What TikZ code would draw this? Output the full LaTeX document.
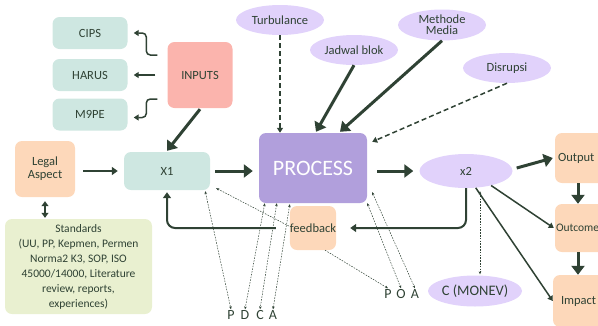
\documentclass[tikz,border=0pt]{standalone}
\usepackage{fontspec}
\setmainfont{Carlito}
\usetikzlibrary{arrows.meta,shapes.geometric}
\definecolor{ink}{HTML}{2F4234}
\definecolor{mint}{HTML}{CEE7E1}
\definecolor{salmon}{HTML}{FBB4AD}
\definecolor{lilac}{HTML}{E1D2FB}
\definecolor{violet}{HTML}{B19FDC}
\definecolor{peach}{HTML}{FDD8BA}
\definecolor{pale}{HTML}{E9F0D0}

\begin{document}
\begin{tikzpicture}[x=1pt,y=-1pt,
  font=\fontsize{12.5}{14}\selectfont, text=ink,
  card/.style={rounded corners=7pt, inner sep=2pt, align=center},
  mintcard/.style={card, fill=mint, minimum width=75pt, minimum height=32pt},
  peachcard/.style={card, fill=peach},
  bubble/.style={ellipse, fill=lilac, inner sep=0pt, minimum width=88pt, minimum height=30pt, align=center},
  letter/.style={inner sep=1pt, font=\fontsize{14}{14}\selectfont},
  heavy/.style={draw=ink, line width=3pt, -{Triangle[length=9pt,width=13pt]}},
  medium/.style={draw=ink, line width=2pt, -{Triangle[length=6pt,width=8pt]}},
  light/.style={draw=ink, line width=1.5pt, -{Triangle[length=5pt,width=6pt]}},
  broken/.style={draw=ink, line width=1.5pt, dash pattern=on 5pt off 3pt, -{Triangle[length=5pt,width=6pt]}},
  hair/.style={draw=ink, line width=0.5pt, dash pattern=on 1.6pt off 1.2pt, {Stealth[length=3pt,width=2.6pt]}-{Stealth[length=3pt,width=2.6pt]}},
  hairone/.style={draw=ink, line width=0.5pt, dash pattern=on 1.6pt off 1.2pt, -{Stealth[length=3pt,width=2.6pt]}},
]
\useasboundingbox (0,0) rectangle (598,325);
\clip (0,0) rectangle (598,325);

% input side
\node[mintcard] (cips)  at (90,33)  {CIPS};
\node[mintcard] (harus) at (90,75)  {HARUS};
\node[mintcard] (m9pe)  at (90,114.5) {M9PE};
\node[card, fill=salmon, minimum width=65pt, minimum height=66pt] (inputs) at (200,75) {INPUTS};

% influences on the process
\node[bubble] (turb)    at (280,20)  {Turbulance};
\node[bubble] (jadwal)  at (354,50)  {Jadwal blok};
\node[bubble, minimum height=31pt] (methode) at (442,25) {Methode\\[-3pt]Media};
\node[bubble] (disrupsi) at (507,68) {Disrupsi};

% main chain
\node[peachcard, minimum width=60pt, minimum height=56pt] (legal) at (45,169) {Legal\\[-1pt]Aspect};
\node[card, fill=pale, minimum width=147pt, minimum height=95pt, font=\fontsize{11.5}{15}\selectfont] (std) at (78.5,266.5)
  {Standards\\(UU, PP, Kepmen, Permen\\Norma2 K3, SOP, ISO\\45000/14000, Literature\\review, reports,\\experiences)};
\node[mintcard, minimum width=86pt, minimum height=38pt] (x1) at (167,171) {X1};
\node[card, fill=violet, text=white, minimum width=108pt, minimum height=70pt, font=\fontsize{22}{24}\selectfont] (process) at (313,168) {PROCESS};
\node[peachcard, inner sep=0pt, minimum width=45pt, minimum height=44pt] (feedback) at (313,228) {feedback};
\node[bubble, minimum width=93pt, minimum height=34pt] (x2) at (466,171) {x2};
\node[bubble, minimum width=78pt, minimum height=31pt, font=\fontsize{14.5}{15}\selectfont] (monev) at (475,291) {C (MONEV)};

% results
\node[peachcard, minimum width=62pt, minimum height=50pt, text width=56pt, inner xsep=3pt, align=left] (output)  at (586,158) {Output};
\node[peachcard, minimum width=62pt, minimum height=48pt, text width=60pt, inner xsep=1pt, align=left, font=\fontsize{11.5}{13}\selectfont] (outcome) at (586,228) {Outcome};
\node[peachcard, minimum width=62pt, minimum height=52pt, text width=50pt, inner xsep=8pt, align=left] (impact)  at (586,301) {Impact};

% cycle letters
\node[letter] (p1) at (231,315) {P};
\node[letter] (d1) at (245,315) {D};
\node[letter] (c1) at (260,315) {C};
\node[letter] (a1) at (273,315) {A};
\node[letter] (p2) at (388,294) {P};
\node[letter] (o2) at (401,294) {O};
\node[letter] (a2) at (415,294) {A};

% inputs fan-out
\draw[light, rounded corners=4pt] ([xshift=-10pt,yshift=20pt]inputs.west) -- ++(-11,0) |- ([xshift=6pt]cips.east);
\draw[light] ([xshift=-12pt]inputs.west) -- ([xshift=6pt]harus.east);
\draw[light, rounded corners=4pt] ([xshift=-10pt,yshift=-24pt]inputs.west) -- ++(-11,0) |- ([xshift=6pt,yshift=-3pt]m9pe.east);
\draw[heavy] ([yshift=-1pt]inputs.south) -- ([yshift=1pt]x1.north);

% influences
\draw[broken] (turb.south) -- (turb.south |- process.north);
\draw[heavy] (jadwal.south) -- ([xshift=3pt,yshift=1pt]process.north);
\draw[heavy] (methode.south) -- ([xshift=27pt,yshift=1pt]process.north);
\draw[broken] (disrupsi.south) -- ([xshift=5pt,yshift=-9pt]process.north east);

% main flow
\draw[medium] ([xshift=8pt]legal.east |- x1.west) -- ([xshift=-6pt]x1.west);
\draw[draw=ink, line width=2pt, {Triangle[length=5pt,width=7pt]}-{Triangle[length=5pt,width=7pt]}] ([yshift=-4pt]legal.south) -- ([yshift=1pt]legal.south |- std.north);
\draw[heavy] ([xshift=5pt]x1.east) -- ([xshift=-6pt]x1.east -| process.west);
\draw[heavy] ([xshift=10pt]process.east |- x2.west) -- ([xshift=-6pt]x2.west);
\draw[heavy] ([xshift=4pt,yshift=3pt]x2.east) -- ([xshift=-2pt]output.west);
\draw[light] (x2.-30) -- ([xshift=-1pt]outcome.west);
\draw[light] (x2.-60) -- (impact.west);
\draw[heavy] ([xshift=-8pt]output.south) -- ([xshift=-8pt]outcome.north);
\draw[heavy] ([xshift=-8pt]outcome.south) -- ([xshift=-8pt]impact.north);

% feedback loop
\draw[medium, rounded corners=8pt] (x2.south) |- ([xshift=14pt]feedback.east);
\draw[medium, rounded corners=8pt] ([xshift=-14pt]feedback.west) -| ([yshift=-2pt]x1.south);

% PDCA / POA links
\draw[hair] ([xshift=-5pt,yshift=-1pt]x1.south east) -- (p1.north);
\draw[hair] ([xshift=6pt]process.south west) -- (d1.north);
\draw[hair] ([xshift=18pt]process.south west) -- (c1.north);
\draw[hair] ([xshift=31pt,yshift=-1pt]process.south west) -- (a1.north);
\draw[hairone] ([xshift=-1pt,yshift=2pt]feedback.west) -- ([xshift=6pt,yshift=2pt]x1.south east);
\draw[hairone] ([xshift=12pt]feedback.south) -- (p2.north);
\draw[hair] (process.south east) -- (o2.north);
\draw[hair] ([xshift=5pt,yshift=11pt]process.south east) -- (a2.north);
\draw[hair, line width=0.6pt] ([xshift=14pt,yshift=-3pt]x2.south) -- ([xshift=5pt,yshift=1pt]monev.north);
\end{tikzpicture}
\end{document}
